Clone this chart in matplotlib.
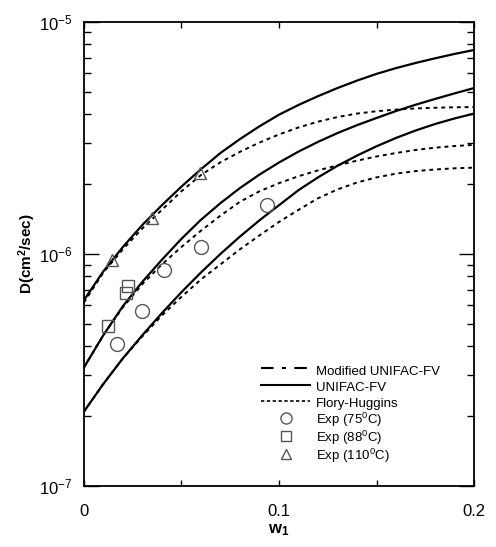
import numpy as np
import matplotlib
matplotlib.use("Agg")
import matplotlib.pyplot as plt
from matplotlib.lines import Line2D
from matplotlib.ticker import FixedLocator, LogLocator, NullFormatter

plt.rcParams['font.family'] = ['Liberation Sans', 'DejaVu Sans']

# --- data: weight fraction w1 and log10 D (cm^2/sec) ---
w_grid = [0.00, 0.01, 0.02, 0.03, 0.04, 0.05, 0.06, 0.07, 0.08, 0.09, 0.10,
          0.11, 0.12, 0.13, 0.14, 0.15, 0.16, 0.17, 0.18, 0.19, 0.20]

unifac_110 = [-6.20, -6.075, -5.97, -5.875, -5.79, -5.71, -5.635, -5.565, -5.505, -5.45, -5.40,
              -5.358, -5.32, -5.285, -5.253, -5.224, -5.199, -5.177, -5.157, -5.138, -5.121]
fh_110     = [-6.21, -6.08, -5.98, -5.89, -5.81, -5.73, -5.66, -5.605, -5.56, -5.52, -5.485,
              -5.455, -5.43, -5.41, -5.395, -5.385, -5.378, -5.373, -5.37, -5.368, -5.367]
unifac_88  = [-6.49, -6.35, -6.225, -6.12, -6.025, -5.935, -5.853, -5.781, -5.716, -5.658, -5.606,
              -5.559, -5.517, -5.479, -5.445, -5.414, -5.384, -5.357, -5.332, -5.308, -5.285]
fh_88      = [-6.49, -6.35, -6.23, -6.13, -6.045, -5.97, -5.90, -5.835, -5.775, -5.73, -5.695,
              -5.665, -5.64, -5.618, -5.598, -5.58, -5.565, -5.552, -5.542, -5.535, -5.53]
unifac_75  = [-6.68, -6.56, -6.45, -6.35, -6.255, -6.165, -6.08, -6.00, -5.925, -5.855, -5.79,
              -5.725, -5.67, -5.62, -5.576, -5.536, -5.50, -5.468, -5.44, -5.416, -5.395]
fh_75      = [-6.68, -6.56, -6.45, -6.355, -6.265, -6.185, -6.11, -6.045, -5.98, -5.92, -5.862,
              -5.81, -5.76, -5.722, -5.692, -5.67, -5.654, -5.643, -5.636, -5.631, -5.628]

exp75_w = [0.017, 0.030, 0.041, 0.060, 0.094]
exp75_D = [4.1e-7, 5.7e-7, 8.5e-7, 1.07e-6, 1.62e-6]
exp88_w = [0.0123, 0.0215, 0.0225]
exp88_D = [4.9e-7, 6.8e-7, 7.3e-7]
exp110_w = [0.0144, 0.035, 0.0595]
exp110_D = [9.4e-7, 1.43e-6, 2.23e-6]

# --- figure ---
fig = plt.figure(figsize=(4.96, 5.47), dpi=100)
ax = fig.add_axes([0.169, 0.1115, 0.787, 0.8485])

dotted = (0, (2.0, 2.0))
for u, f in [(unifac_110, fh_110), (unifac_88, fh_88), (unifac_75, fh_75)]:
    ax.plot(w_grid, 10 ** np.array(u), color='black', lw=1.6)
    ax.plot(w_grid, 10 ** np.array(f), color='black', lw=1.4, linestyle=dotted)

mk = dict(mfc='none', mec='#555555', mew=1.0, linestyle='none')
ax.plot(exp75_w, exp75_D, marker='o', ms=10, **mk)
ax.plot(exp88_w, exp88_D, marker='s', ms=9, **mk)
ax.plot(exp110_w, exp110_D, marker='^', ms=9, **mk)

ax.set_yscale('log')
ax.set_xlim(0, 0.2)
ax.set_ylim(1e-7, 1e-5)

ax.xaxis.set_major_locator(FixedLocator([0, 0.1, 0.2]))
ax.xaxis.set_minor_locator(FixedLocator([0.05, 0.15]))
ax.set_xticklabels(['0', '0.1', '0.2'])
ax.yaxis.set_minor_locator(LogLocator(base=10, subs=np.arange(2, 10), numticks=20))
ax.yaxis.set_minor_formatter(NullFormatter())
ax.set_yticks([1e-7, 1e-6, 1e-5])
ax.set_yticklabels(['$\\mathregular{10^{-7}}$', '$\\mathregular{10^{-6}}$', '$\\mathregular{10^{-5}}$'])

ax.tick_params(axis='y', which='major', direction='in', length=11, width=1.0,
               right=True, labelsize=12, pad=8)
ax.tick_params(axis='y', which='minor', direction='in', length=5, width=1.0, right=True)
ax.tick_params(axis='x', which='both', direction='in', length=4, width=1.0,
               top=True, labelsize=12, pad=13)
for s in ax.spines.values():
    s.set_linewidth(1.3)

ax.set_xlabel('w$\\mathregular{_1}$', fontsize=12, fontweight='bold', labelpad=2)
ax.set_ylabel('D(cm$\\mathregular{^2}$/sec)', fontsize=11, fontweight='bold')
ax.yaxis.set_label_coords(-0.117, 0.5)

handles = [
    Line2D([], [], color='black', lw=1.5, linestyle=(0, (6, 4, 2, 4))),
    Line2D([], [], color='black', lw=1.5),
    Line2D([], [], color='black', lw=1.2, linestyle=(0, (2, 1.5))),
    Line2D([], [], marker='o', ms=8, **mk),
    Line2D([], [], marker='s', ms=7, **mk),
    Line2D([], [], marker='^', ms=7, **mk),
]
labels = ['Modified UNIFAC-FV', 'UNIFAC-FV', 'Flory-Huggins',
          'Exp (75$\\mathregular{^0}$C)', 'Exp (88$\\mathregular{^0}$C)',
          'Exp (110$\\mathregular{^0}$C)']
ax.legend(handles, labels, loc='lower left', bbox_to_anchor=(0.455, 0.045),
          frameon=False, fontsize=9.5, handlelength=3.7, handletextpad=0.4,
          handleheight=1.5, labelspacing=0.0, borderaxespad=0, borderpad=0)

fig.savefig('out.png', dpi=100)
